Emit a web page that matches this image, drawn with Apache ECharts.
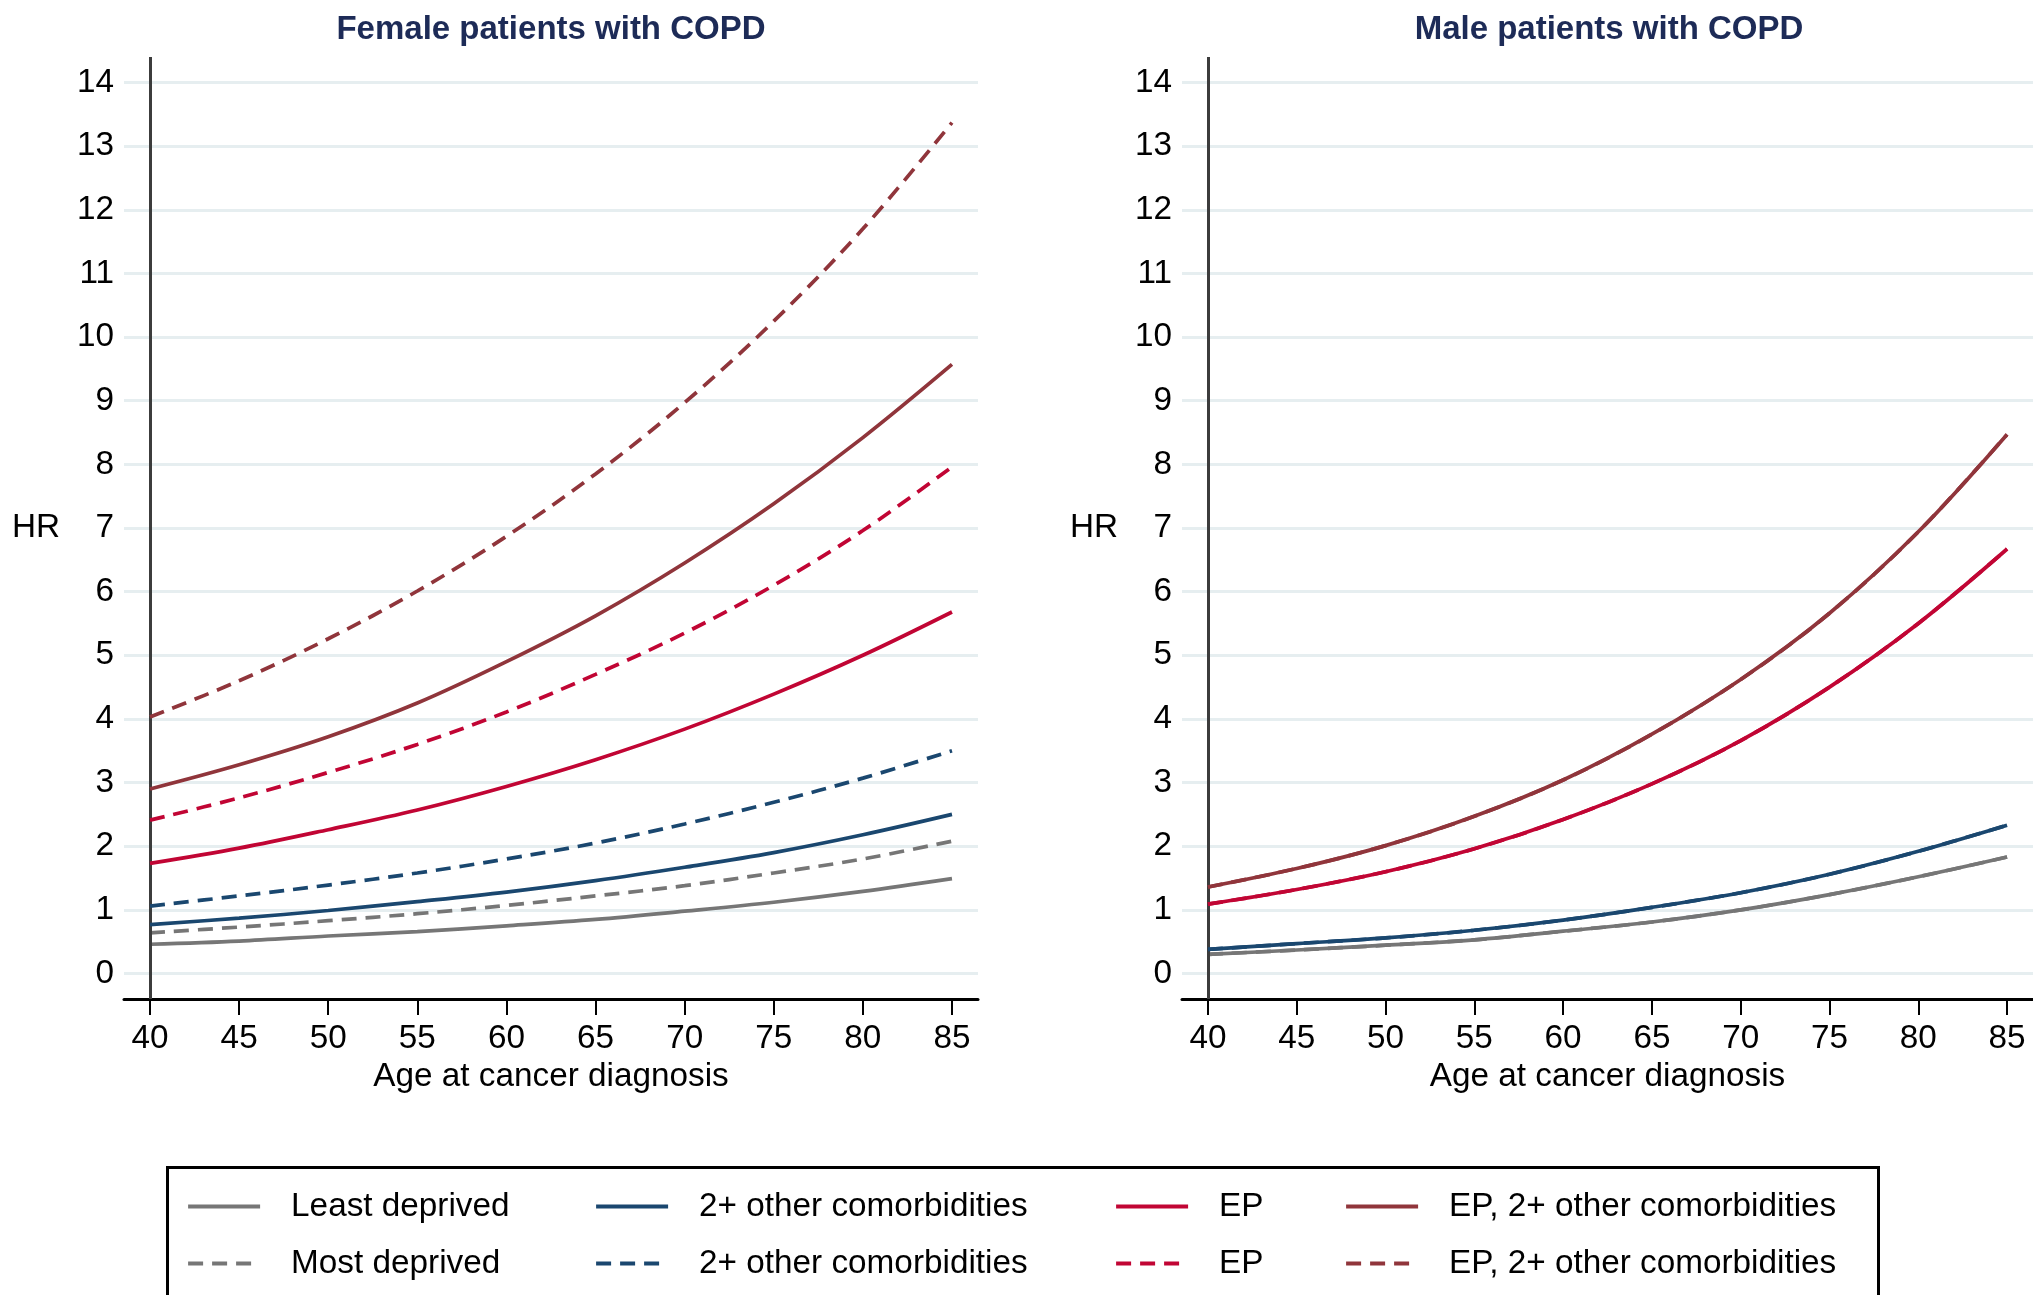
<!DOCTYPE html>
<html>
<head>
<meta charset="utf-8">
<script src="https://cdn.jsdelivr.net/npm/echarts@6/dist/echarts.min.js"></script>
<style>
html,body{margin:0;padding:0;background:#fff;}
#chart{width:2033px;height:1295px;}
</style>
</head>
<body>
<div id="chart"></div>
<script>
// ---------- data ----------
const ages = [40, 45, 50, 55, 60, 65, 70, 75, 80, 85];
const xTicks = [40, 45, 50, 55, 60, 65, 70, 75, 80, 85];
const yTicks = [0, 1, 2, 3, 4, 5, 6, 7, 8, 9, 10, 11, 12, 13, 14];

// Female patients with COPD
const fLeastDep        = [0.46, 0.51, 0.59, 0.66, 0.75, 0.85, 0.98, 1.12, 1.29, 1.49];
const fMostDep         = [0.64, 0.73, 0.83, 0.94, 1.07, 1.22, 1.38, 1.58, 1.80, 2.08];
const fComorbLeast     = [0.77, 0.87, 0.99, 1.13, 1.28, 1.46, 1.67, 1.90, 2.18, 2.50];
const fComorbMost      = [1.06, 1.22, 1.39, 1.58, 1.80, 2.05, 2.35, 2.69, 3.07, 3.50];
const fEPLeast         = [1.73, 1.97, 2.26, 2.57, 2.94, 3.36, 3.84, 4.39, 5.00, 5.68];
const fEPMost          = [2.41, 2.76, 3.16, 3.60, 4.11, 4.70, 5.35, 6.10, 6.96, 7.96];
const fEPComorbLeast   = [2.90, 3.28, 3.72, 4.25, 4.90, 5.62, 6.45, 7.38, 8.42, 9.57];
const fEPComorbMost    = [4.03, 4.60, 5.26, 6.01, 6.87, 7.85, 8.97, 10.25, 11.70, 13.37];

// Male patients with COPD
const mLeastDep        = [0.30, 0.37, 0.445, 0.53, 0.665, 0.81, 1.00, 1.24, 1.52, 1.83];
const mMostDep         = [0.30, 0.37, 0.445, 0.53, 0.665, 0.81, 1.00, 1.24, 1.52, 1.83];
const mComorbLeast     = [0.38, 0.47, 0.56, 0.68, 0.84, 1.04, 1.27, 1.56, 1.92, 2.33];
const mComorbMost      = [0.38, 0.47, 0.56, 0.68, 0.84, 1.04, 1.27, 1.56, 1.92, 2.33];
const mEPLeast         = [1.09, 1.32, 1.60, 1.96, 2.42, 2.98, 3.66, 4.50, 5.50, 6.67];
const mEPMost          = [1.09, 1.32, 1.60, 1.96, 2.42, 2.98, 3.66, 4.50, 5.50, 6.67];
const mEPComorbLeast   = [1.36, 1.65, 2.01, 2.47, 3.04, 3.76, 4.62, 5.66, 6.94, 8.47];
const mEPComorbMost    = [1.36, 1.65, 2.01, 2.47, 3.04, 3.76, 4.62, 5.66, 6.94, 8.47];

const panelTitles = ['Female patients with COPD', 'Male patients with COPD'];
const seriesNames = [
  'Least deprived', 'Most deprived',
  '2+ other comorbidities', '2+ other comorbidities (most deprived)',
  'EP', 'EP (most deprived)',
  'EP, 2+ other comorbidities', 'EP, 2+ other comorbidities (most deprived)'
];

// ---------- styling ----------
const FONT = '"Liberation Sans", Arial, Helvetica, sans-serif';
const FS = 33.3;
const colors = ['#767676', '#767676', '#1a476f', '#1a476f', '#c10534', '#c10534', '#90353b', '#90353b'];
const DASH = [15, 9];

const femaleData = [fLeastDep, fMostDep, fComorbLeast, fComorbMost, fEPLeast, fEPMost, fEPComorbLeast, fEPComorbMost];
const maleData = [mLeastDep, mMostDep, mComorbLeast, mComorbMost, mEPLeast, mEPMost, mEPComorbLeast, mEPComorbMost];

function zip(vals) { return ages.map((a, i) => [a, vals[i]]); }

function buildSeries(dataSets, gi) {
  return dataSets.map((vals, k) => {
    const s = {
      type: 'line',
      name: seriesNames[k],
      xAxisIndex: gi,
      yAxisIndex: gi,
      data: zip(vals),
      symbol: 'none',
      showSymbol: false,
      smooth: 0.35,
      lineStyle: { color: colors[k], width: 3.7, type: (k % 2 === 1) ? DASH : 'solid' },
      itemStyle: { color: colors[k] },
      z: 3 + k
    };
    if (k === 0) {
      s.markLine = {
        silent: true,
        symbol: 'none',
        animation: false,
        label: { show: false },
        lineStyle: { color: '#3c3c3c', width: 3, type: 'solid' },
        data: [{ xAxis: 40 }]
      };
    }
    return s;
  });
}

const grids = [
  { left: 124, top: 57, width: 854, height: 942 },
  { left: 1182, top: 57, width: 854, height: 942 }
];

function xAxisFor(gi) {
  return {
    gridIndex: gi, type: 'value', min: 38.54, max: 86.46,
    name: 'Age at cancer diagnosis', nameLocation: 'middle', nameGap: 58,
    nameTextStyle: { fontSize: FS, color: '#000', fontFamily: FONT },
    axisLine: { show: true, onZero: false, lineStyle: { color: '#000', width: 3 } },
    axisTick: { show: true, customValues: xTicks, length: 16, lineStyle: { color: '#000', width: 2 } },
    axisLabel: { customValues: xTicks, fontSize: FS, color: '#000', fontFamily: FONT, margin: 23 },
    splitLine: { show: false }
  };
}
function yAxisFor(gi) {
  return {
    gridIndex: gi, type: 'value', min: -0.4, max: 14.4,
    name: 'HR', nameLocation: 'middle', nameRotate: 0, nameGap: 64,
    nameTextStyle: { fontSize: FS, color: '#000', fontFamily: FONT },
    axisLine: { show: false },
    axisTick: { show: false, customValues: yTicks },
    axisLabel: { customValues: yTicks, fontSize: FS, color: '#000', fontFamily: FONT, margin: 10 },
    splitLine: { show: true, lineStyle: { color: '#e6eef0', width: 3 } }
  };
}

const legendCols = [
  { left: 186, names: [seriesNames[0], seriesNames[1]] },
  { left: 594, names: [seriesNames[2], seriesNames[3]] },
  { left: 1114, names: [seriesNames[4], seriesNames[5]] },
  { left: 1344, names: [seriesNames[6], seriesNames[7]] }
];

const option = {
  animation: false,
  backgroundColor: '#fff',
  textStyle: { fontFamily: FONT },
  title: panelTitles.map((t, i) => ({
    text: t,
    left: i === 0 ? 551 : 1609,
    top: 13,
    padding: 0,
    textAlign: 'center',
    textStyle: { fontSize: 33, fontWeight: 'bold', color: '#1d2b57', fontFamily: FONT }
  })),
  grid: grids,
  xAxis: [xAxisFor(0), xAxisFor(1)],
  yAxis: [yAxisFor(0), yAxisFor(1)],
  legend: legendCols.map(c => ({
    orient: 'vertical',
    left: c.left,
    top: 1190,
    padding: 0,
    itemWidth: 72,
    itemHeight: 2,
    itemGap: 24,
    selectedMode: false,
    data: c.names,
    formatter: n => n.replace(' (most deprived)', ''),
    itemStyle: { opacity: 0 },
    lineStyle: { width: 4.2 },
    textStyle: { fontSize: FS, color: '#000', fontFamily: FONT, lineHeight: 30, padding: [0, 0, 0, 26] }
  })),
  graphic: [{
    type: 'rect',
    left: 165, top: 1165,
    shape: { width: 1711, height: 200 },
    style: { fill: 'none', stroke: '#000', lineWidth: 3 },
    silent: true
  }],
  series: buildSeries(femaleData, 0).concat(buildSeries(maleData, 1))
};

const chart = echarts.init(document.getElementById('chart'), null, { renderer: 'canvas' });
chart.setOption(option);
</script>
</body>
</html>
